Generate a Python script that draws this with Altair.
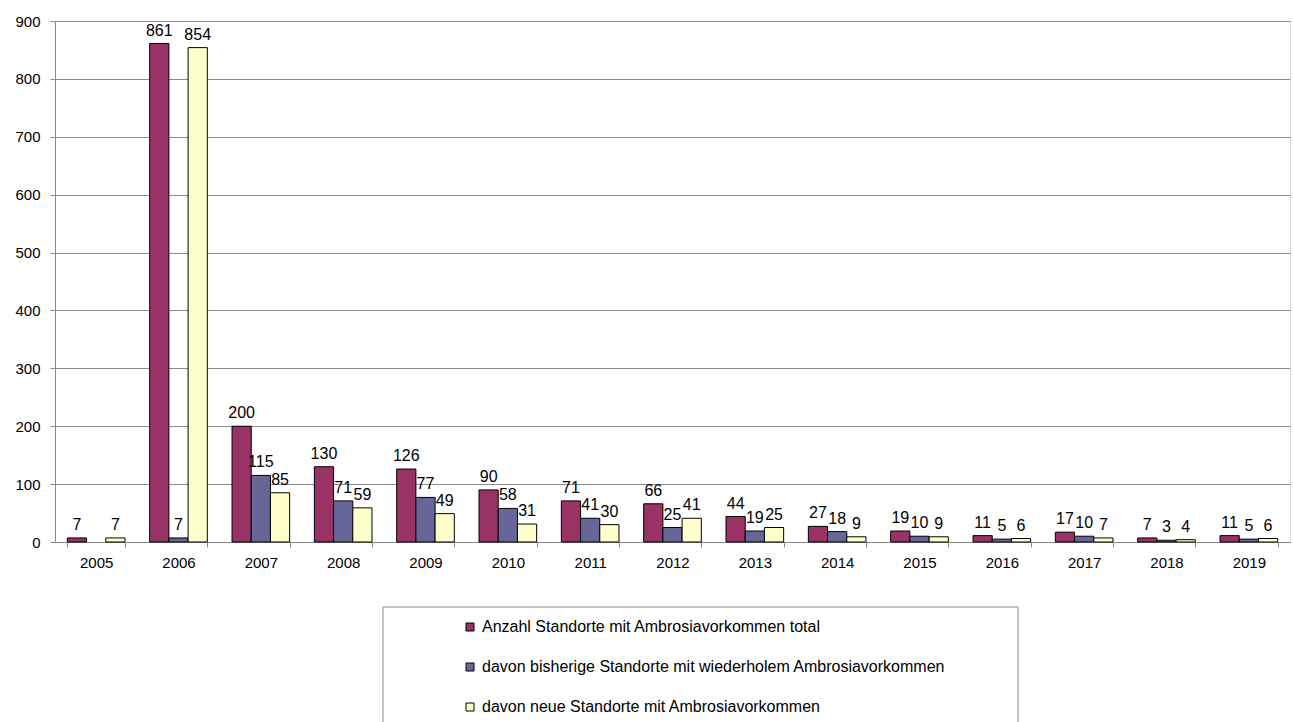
import altair as alt
import pandas as pd

years = [str(y) for y in range(2005, 2020)]
total = [7, 861, 200, 130, 126, 90, 71, 66, 44, 27, 19, 11, 17, 7, 11]
bisher = [None, 7, 115, 71, 77, 58, 41, 25, 19, 18, 10, 5, 10, 3, 5]
neu = [7, 854, 85, 59, 49, 31, 30, 41, 25, 9, 9, 6, 7, 4, 6]

series = [
    "Anzahl Standorte mit Ambrosiavorkommen total",
    "davon bisherige Standorte mit wiederholem Ambrosiavorkommen",
    "davon neue Standorte mit Ambrosiavorkommen",
]
colors = ["#993366", "#666699", "#FFFFCC"]

rows = []
for i, y in enumerate(years):
    for s, vals in zip(series, [total, bisher, neu]):
        rows.append({"Jahr": y, "Serie": s, "Wert": vals[i]})
df = pd.DataFrame(rows)

FONT = "Liberation Sans"
W, H = 1235, 521

x = alt.X("Jahr:N", sort=years, title=None,
          scale=alt.Scale(paddingInner=0.3, paddingOuter=0.15),
          axis=alt.Axis(labelAngle=0, labelFontSize=15, labelFont=FONT, labelColor="black",
                        labelPadding=8, tickSize=5, tickColor="#888888", domainColor="#888888",
                        tickBand="extent", grid=False))
xoff = alt.XOffset("Serie:N", sort=series, scale=alt.Scale(domain=series))
y = alt.Y("Wert:Q", title=None,
          scale=alt.Scale(domain=[0, 900]),
          axis=alt.Axis(values=list(range(0, 1000, 100)), labelFontSize=15, labelFont=FONT,
                        labelColor="black", labelPadding=10, tickSize=5, tickColor="#888888",
                        domainColor="#888888", gridColor="#8c8c8c", gridWidth=1.2))

base = alt.Chart(df).transform_filter("datum.Wert != null")

bars = base.mark_bar(stroke="black", strokeWidth=1).encode(
    x=x, xOffset=xoff, y=y,
    color=alt.Color("Serie:N", sort=series,
                    scale=alt.Scale(domain=series, range=colors),
                    legend=alt.Legend(title=None, orient="none", legendX=407, legendY=598,
                                      direction="vertical", symbolType="square", symbolSize=64,
                                      symbolStrokeColor="black", symbolStrokeWidth=1,
                                      symbolOpacity=1, labelFontSize=16, labelFont=FONT,
                                      labelColor="black", labelOffset=4, rowPadding=24,
                                      labelLimit=1000, padding=0)),
)

labels = base.mark_text(baseline="bottom", dy=-5, fontSize=16, font=FONT, color="black").encode(
    x=x, xOffset=xoff, y=y, text=alt.Text("Wert:Q"),
)

frame = alt.Chart(pd.DataFrame({"a": [0]})).mark_rect(
    fill="transparent", stroke="#888888", strokeWidth=1
).encode(x=alt.value(328), x2=alt.value(963), y=alt.value(586), y2=alt.value(720))

chart = alt.layer(bars, labels, frame).properties(
    width=W, height=H,
    autosize=alt.AutoSizeParams(type="none"),
    padding={"left": 55, "top": 21, "right": 3, "bottom": 180},
).configure_view(stroke=None).configure(background="white")

chart.save("out.html", embed_options={"renderer": "svg", "actions": False})
